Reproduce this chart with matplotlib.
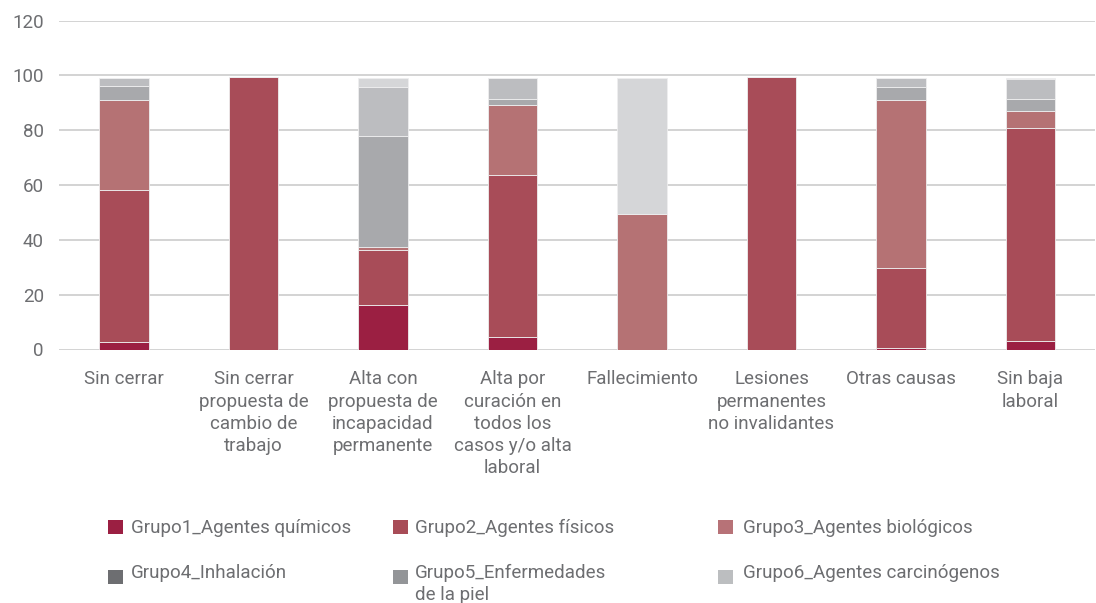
import matplotlib
matplotlib.use('Agg')
import matplotlib.pyplot as plt
from matplotlib.patches import Rectangle
import numpy as np

plt.rcParams['font.family'] = ['Roboto', 'DejaVu Sans']

categories = ["Sin cerrar",
              "Sin cerrar\npropuesta de\ncambio de\ntrabajo",
              "Alta con\npropuesta de\nincapacidad\npermanente",
              "Alta por\ncuración en\ntodos los\ncasos y/o alta\nlaboral",
              "Fallecimiento",
              "Lesiones\npermanentes\nno invalidantes",
              "Otras causas",
              "Sin baja\nlaboral"]

g1 = [2.8, 0, 16.2, 4.7, 0, 0, 0.7, 3.2]
g2 = [55.5, 99.4, 20.0, 58.8, 0, 99.4, 29.1, 77.5]
g3 = [32.7, 0, 1.1, 25.5, 49.3, 0, 61.3, 6.4]
g4 = [5.1, 0, 40.7, 2.5, 0, 0, 4.5, 4.4]
g5 = [3.0, 0, 17.6, 7.7, 0, 0, 3.6, 7.2]
g6 = [0, 0, 3.6, 0, 49.9, 0, 0, 0.5]

series_names = ["Grupo1_Agentes químicos", "Grupo2_Agentes físicos", "Grupo3_Agentes biológicos",
                "Grupo4_Inhalación", "Grupo5_Enfermedades\nde la piel", "Grupo6_Agentes carcinógenos"]
series = [g1, g2, g3, g4, g5, g6]
bar_colors = ["#9b1f42", "#a84c58", "#b57274", "#a8a9ac", "#bcbdc0", "#d5d6d8"]
legend_colors = ["#9b1f42", "#a84c57", "#b77277", "#6d6e71", "#939598", "#bcbec0"]

text_color = "#6d6e71"

fig = plt.figure(figsize=(10.96, 6.03), dpi=100)
ax = fig.add_axes([59.25 / 1096, 1 - 349.5 / 603, (1095.25 - 59.25) / 1096, (349.5 - 20.5) / 603])

x = np.arange(len(categories))
bottom = np.zeros(len(categories))
for vals, col in zip(series, bar_colors):
    v = np.array(vals, dtype=float)
    ax.bar(x, v, bottom=bottom, width=0.38, color=col, edgecolor='#eeeeef', linewidth=0.6, zorder=3)
    bottom += v

ax.set_xlim(-0.5, len(categories) - 0.5)
ax.set_ylim(0, 120)
ax.set_yticks(np.arange(0, 121, 20))
ax.set_xticks(x)
ax.set_xticklabels(categories, linespacing=1.3)
ax.yaxis.grid(True, color='#c8c8c8', linewidth=1.1, zorder=0)
ax.set_axisbelow(True)
for s in ax.spines.values():
    s.set_visible(False)
ax.tick_params(axis='both', length=0, labelsize=13.5, labelcolor=text_color)
ax.tick_params(axis='x', pad=15)
ax.tick_params(axis='y', pad=11)

# Legend (manual placement); ty = baseline of the last text line
leg_pos = [(108, 520, 131, 533), (393, 520, 415, 533), (718, 520, 743, 533),
           (108, 570, 131, 578), (393, 570, 415, 600), (718, 570, 743, 578)]
for (sx, sy, tx, ty), name, col in zip(leg_pos, series_names, legend_colors):
    fig.patches.append(Rectangle((sx / 1096, 1 - (sy + 14) / 603), 15 / 1096, 14 / 603,
                                 transform=fig.transFigure, facecolor=col, edgecolor='none'))
    fig.text(tx / 1096, 1 - ty / 603, name, ha='left', va='baseline', fontsize=13.5,
             color=text_color, linespacing=1.3)

fig.savefig("out.png", dpi=100)
